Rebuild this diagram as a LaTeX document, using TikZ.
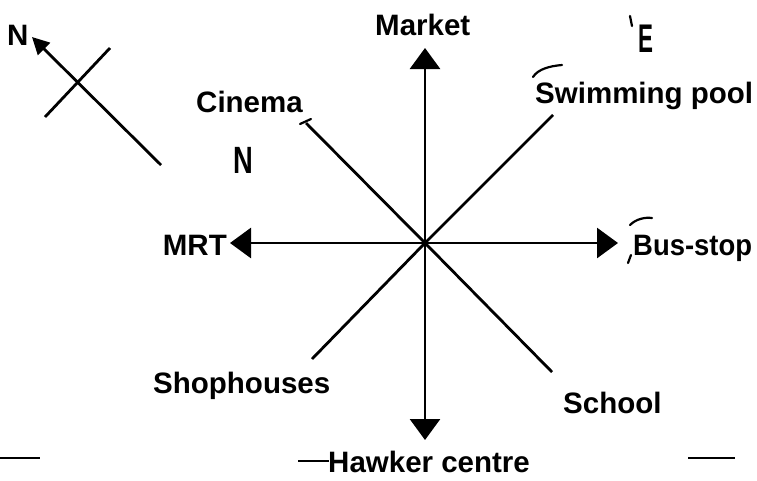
\documentclass[tikz,border=0pt]{standalone}
\usepackage{fontspec}
\setmainfont{Liberation Sans}
\usetikzlibrary{arrows.meta}
\begin{document}
\begin{tikzpicture}[x=1pt,y=-1pt,
  ln/.style={line width=2.8pt},
  arr/.style={ln,-{Triangle[width=30pt,length=21pt]}},
  lbl/.style={inner sep=0pt,font=\bfseries\fontsize{29.5}{32}\selectfont},
  stroke/.style={line width=2.2pt,line cap=round}]
\useasboundingbox (0,0) rectangle (757,480);
\fill[white] (0,0) rectangle (757,480);
% compass
\coordinate (cs) at (161,165);
\coordinate (cn) at (32,37);
\coordinate (ca) at (110,48);
\coordinate (cb) at (45,117);
\draw[ln,-{Triangle[width=17pt,length=17pt]}] (cs) -- (cn);
\draw[ln] (ca) -- (cb);
\node[lbl,anchor=base west] (nlab) at (7,45) {N};
% centre and ends
\coordinate (O) at (425,243);
\coordinate (up) at (425,48);
\coordinate (dn) at (425,440);
\coordinate (lt) at (230,243);
\coordinate (rt) at (618,243);
\coordinate (nw) at (306,123);
\coordinate (ne) at (553,115);
\coordinate (sw) at (312,359);
\coordinate (se) at (552,372);
\draw[arr] (O) -- (up);
\draw[arr] (O) -- (dn);
\draw[arr] (O) -- (lt);
\draw[arr] (O) -- (rt);
\draw[ln] (O) -- (nw);
\draw[ln] (O) -- (ne);
\draw[ln] (O) -- (sw);
\draw[ln] (O) -- (se);
% labels
\node[lbl,anchor=base west] (market) at (375,35) {Market};
\node[lbl,anchor=base west] (cinema) at (196,112) {Cinema};
\node[lbl,anchor=base west] (swim) at (535,103) {Swimming pool};
\node[lbl,anchor=base east] (mrt) at (227,255) {MRT};
\node[lbl,anchor=base west,xscale=0.93] (bus) at (633,255) {Bus-stop};
\node[lbl,anchor=base west] (shop) at (153,393) {Shophouses};
\node[lbl,anchor=base west] (school) at (563,413) {School};
\node[lbl,anchor=base west] (hawker) at (328,472) {Hawker centre};
\node[lbl,anchor=base west,xscale=0.72,font=\bfseries\fontsize{38}{40}\selectfont] (nmid) at (233,173) {N};
\node[lbl,anchor=base west,xscale=0.56,font=\bfseries\fontsize{40}{42}\selectfont] (elab) at (638,52) {E};
% small strokes
\draw[stroke] (533,77) .. controls (538,69) and (550,66) .. (562,65);
\draw[stroke] (630,225) .. controls (636,219) and (645,217) .. (652,218);
\draw[stroke] (631,255) -- (628,263);
\draw[stroke] (630,16) -- (632,26);
\draw[stroke] (300,124) -- (311,119);
\draw[line width=2.2pt] (0,458) -- (40,458);
\draw[line width=2.2pt] (298,461) -- (329,461);
\draw[line width=2.2pt] (688,458) -- (735,458);
\end{tikzpicture}
\end{document}
